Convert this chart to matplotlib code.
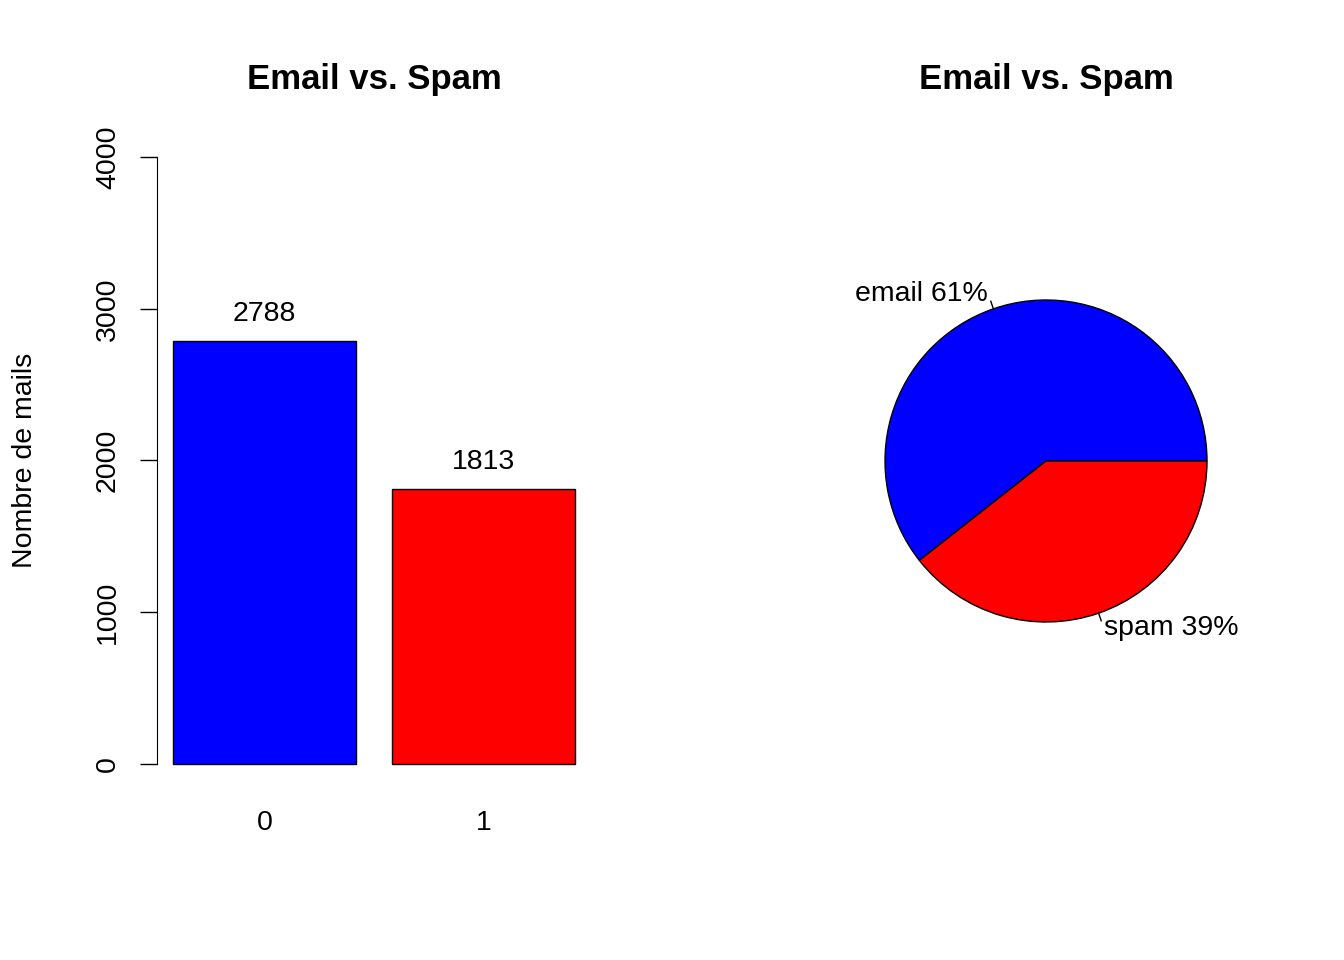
import matplotlib.pyplot as plt
import numpy as np

plt.rcParams['font.family'] = ['Liberation Sans', 'DejaVu Sans']

categories = ['0', '1']
counts = [2788, 1813]
pie_labels = ['email', 'spam']
colors = ['#0000ff', '#ff0000']
yticks = [0, 1000, 2000, 3000, 4000]

W, H = 1344, 960
fig = plt.figure(figsize=(W / 100, H / 100), dpi=100)
FS = 20.5
TFS = 25

def px_axes(x0, y0, x1, y1):
    return fig.add_axes([x0 / W, 1 - y1 / H, (x1 - x0) / W, (y1 - y0) / H])

# bar chart, R barplot geometry: width 1, space 0.2
ax = px_axes(157, 133, 591, 788)
lefts = np.array([0.2, 1.4])
ax.bar(lefts, counts, width=1.0, align='edge', color=colors, edgecolor='black', linewidth=1)
ax.set_xlim(0.2 - 16 / 183, 2.4 + 16 / 183)
ax.set_ylim(-160, 4160)
for l, c in zip(lefts, counts):
    ax.text(l + 0.5, c + 90, str(c), ha='center', va='bottom', fontsize=FS)
for s in ['top', 'right', 'bottom']:
    ax.spines[s].set_visible(False)
ax.spines['left'].set_bounds(0, 4000)
ax.set_yticks(yticks)
ax.set_yticklabels([str(t) for t in yticks], rotation=90, va='center', fontsize=FS)
ax.tick_params(axis='y', length=12, width=1, pad=14)
ax.set_xticks(lefts + 0.5)
ax.set_xticklabels(categories, fontsize=FS)
ax.tick_params(axis='x', length=0, pad=16)
ax.patch.set_visible(False)
fig.text(25 / W, 1 - 460 / H, 'Nombre de mails', rotation=90, ha='center', va='center', fontsize=FS)
fig.text(374 / W, 1 - 80 / H, 'Email vs. Spam', ha='center', va='center',
         fontsize=TFS, fontweight='bold')

# pie chart
r = 161
ax2 = px_axes(1046 - 300, 461 - 300, 1046 + 300, 461 + 300)
total = sum(counts)
pct = [round(100 * c / total) for c in counts]
ax2.pie(counts, colors=colors, startangle=0, counterclock=True,
        radius=1, wedgeprops=dict(edgecolor='black', linewidth=1))
ax2.set_xlim(-300 / r, 300 / r)
ax2.set_ylim(-300 / r, 300 / r)
ax2.axis('off')
start = 0
for c, lab, p in zip(counts, pie_labels, pct):
    frac = c / total
    mid = np.deg2rad((start + frac / 2) * 360)
    start += frac
    x, y = np.cos(mid), np.sin(mid)
    ax2.plot([x, 1.05 * x], [y, 1.05 * y], color='black', lw=1)
    ax2.text(1.1 * x, 1.1 * y, f'{lab} {p}%', ha='left' if x > 0 else 'right',
             va='center', fontsize=FS)
fig.text(1046 / W, 1 - 80 / H, 'Email vs. Spam', ha='center', va='center',
         fontsize=TFS, fontweight='bold')

fig.savefig('out.png', dpi=100)
